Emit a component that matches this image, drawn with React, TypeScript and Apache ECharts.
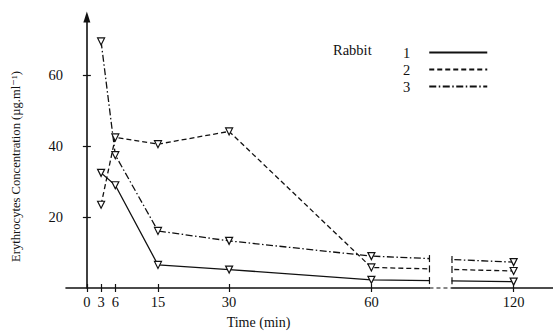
import React, { useEffect, useRef } from "react";
import * as echarts from "echarts";

// Real sampling times (minutes)
const TIMES = [3, 6, 15, 30, 60, 120];
const RABBIT_1 = [32.5, 29, 6.5, 5.2, 2.3, 1.8];
const RABBIT_2 = [23.5, 42.5, 40.6, 44.2, 5.8, 4.8];
const RABBIT_3 = [69.6, 37.5, 16.1, 13.3, 9.0, 7.3];
const SERIES_NAMES = ["1", "2", "3"];
const X_TICKS = [0, 3, 6, 15, 30, 60, 120];
const Y_TICKS = [20, 40, 60];
// axis break (real minutes)
const BREAK_FROM = 84.5;
const BREAK_TO = 94;

// compressed time scale beyond 60 min
const pos = (t: number) => (t <= 60 ? t : 60 + (t - 60) / 2);
const inv = (p: number) => (p <= 60 ? p : 60 + (p - 60) * 2);

const FONT = "'Liberation Serif', 'DejaVu Serif', serif";
const INK = "#111";

export default function App() {
  const ref = useRef<HTMLDivElement>(null);
  useEffect(() => {
    if (!ref.current) return;
    const chart = echarts.init(ref.current, null, { renderer: "svg" });
    const all = [RABBIT_1, RABBIT_2, RABBIT_3];
    const dashes: any[] = ["solid", [5, 3], [7, 2.5, 1.5, 2.5]];
    const X_MIN = -4.4;
    const X_MAX = 98.3;
    const Y_MAX = 76.5;
    const GRID_TOP = 17;

    const series: any[] = all.map((vals, k) => ({
      name: SERIES_NAMES[k],
      type: "line",
      xAxisIndex: 0,
      yAxisIndex: 0,
      data: TIMES.map((t, i) => [pos(t), vals[i]]),
      symbol: "triangle",
      symbolRotate: 180,
      symbolSize: [7, 7],
      itemStyle: { color: "#fff", borderColor: INK, borderWidth: 1.2 },
      lineStyle: { color: INK, width: 1.3, type: dashes[k] },
      z: 3,
    }));

    const baseX = {
      type: "value",
      min: X_MIN,
      max: X_MAX,
      splitLine: { show: false },
    };
    const baseY = {
      type: "value",
      min: 0,
      max: Y_MAX,
      splitLine: { show: false },
    };

    chart.setOption({
      animation: false,
      grid: { left: 66, right: 0, top: GRID_TOP, bottom: 41 },
      xAxis: [
        {
          ...baseX,
          position: "bottom",
          name: "Time (min)",
          nameLocation: "middle",
          nameGap: 27,
          nameTextStyle: {
            fontFamily: FONT,
            fontSize: 14,
            color: INK,
            padding: [0, 102, 0, 0],
          },
          axisLine: { show: true, lineStyle: { color: INK, width: 1.6 } },
          axisTick: {
            show: true,
            length: 4,
            customValues: X_TICKS.map(pos),
            lineStyle: { color: INK, width: 1.2 },
          },
          axisLabel: {
            show: true,
            customValues: X_TICKS.map(pos),
            formatter: (v: number) => String(Math.round(inv(v))),
            fontFamily: FONT,
            fontSize: 14.5,
            color: INK,
            margin: 6,
          },
        },
        {
          ...baseX,
          position: "bottom",
          axisLine: { show: false },
          axisTick: {
            show: true,
            inside: true,
            length: 4,
            customValues: X_TICKS.map(pos),
            lineStyle: { color: INK, width: 1.2 },
          },
          axisLabel: { show: false },
        },
      ],
      yAxis: [
        {
          ...baseY,
          position: "left",
          name: "Erythrocytes Concentration (µg.ml⁻¹)",
          nameLocation: "middle",
          nameRotate: 90,
          nameGap: 44,
          nameTextStyle: {
            fontFamily: FONT,
            fontSize: 12.6,
            color: INK,
            padding: [0, 28, 0, 0],
          },
          axisLine: {
            show: true,
            symbol: ["none", "triangle"],
            symbolSize: [7, 11],
            lineStyle: { color: INK, width: 1.6 },
          },
          axisTick: {
            show: true,
            length: 4,
            customValues: Y_TICKS,
            lineStyle: { color: INK, width: 1.2 },
          },
          axisLabel: {
            show: true,
            customValues: Y_TICKS,
            fontFamily: FONT,
            fontSize: 14.5,
            color: INK,
            margin: 3,
          },
        },
        {
          ...baseY,
          position: "left",
          axisLine: { show: false },
          axisTick: {
            show: true,
            inside: true,
            length: 4,
            customValues: Y_TICKS,
            lineStyle: { color: INK, width: 1.2 },
          },
          axisLabel: { show: false },
        },
      ],
      legend: {
        show: true,
        orient: "vertical",
        align: "right",
        left: 398,
        top: 40,
        itemWidth: 58,
        itemHeight: 12,
        itemGap: 2,
        itemStyle: { opacity: 0 },
        textStyle: {
          fontFamily: FONT,
          fontSize: 14.5,
          color: INK,
          padding: [0, 14, 0, 0],
        },
        data: SERIES_NAMES,
      },
      series,
    });

    // Axis break decoration computed through the chart's own scales
    const xa = chart.convertToPixel({ xAxisIndex: 0 }, pos(BREAK_FROM)) as number;
    const xb = chart.convertToPixel({ xAxisIndex: 0 }, pos(BREAK_TO)) as number;
    const y0 = chart.convertToPixel({ yAxisIndex: 0 }, 0) as number;
    const i60 = TIMES.indexOf(60);
    const i120 = TIMES.indexOf(120);
    const valueAt = (vals: number[], t: number) =>
      vals[i60] + ((vals[i120] - vals[i60]) * (t - 60)) / (120 - 60);

    const ticks: any[] = [];
    let yMin = y0;
    all.forEach((vals) => {
      [BREAK_FROM, BREAK_TO].forEach((t, j) => {
        const x = j === 0 ? xa : xb;
        const y = chart.convertToPixel({ yAxisIndex: 0 }, valueAt(vals, t)) as number;
        yMin = Math.min(yMin, y);
        ticks.push({
          type: "line",
          shape: { x1: x, y1: y - 3.5, x2: x, y2: y + 3.5 },
          style: { stroke: INK, lineWidth: 1.2 },
          z: 52,
        });
      });
    });

    const g: any[] = [
      {
        type: "rect",
        shape: { x: xa + 0.5, y: yMin - 8, width: xb - xa - 1, height: y0 - yMin + 11 },
        style: { fill: "#fff" },
        z: 50,
      },
      {
        type: "line",
        shape: { x1: xa, y1: y0, x2: xb, y2: y0 },
        style: { stroke: INK, lineWidth: 1.2, lineDash: [4, 3] },
        z: 51,
      },
      {
        type: "text",
        left: 333,
        top: 42,
        style: { text: "Rabbit", font: `14.5px ${FONT}`, fill: INK },
        z: 51,
      },
      ...ticks,
    ];
    chart.setOption({ graphic: g });

    return () => chart.dispose();
  }, []);
  return (
    <div
      ref={ref}
      style={{ position: "fixed", left: 0, top: 0, width: 553, height: 334, background: "#fff" }}
    />
  );
}
